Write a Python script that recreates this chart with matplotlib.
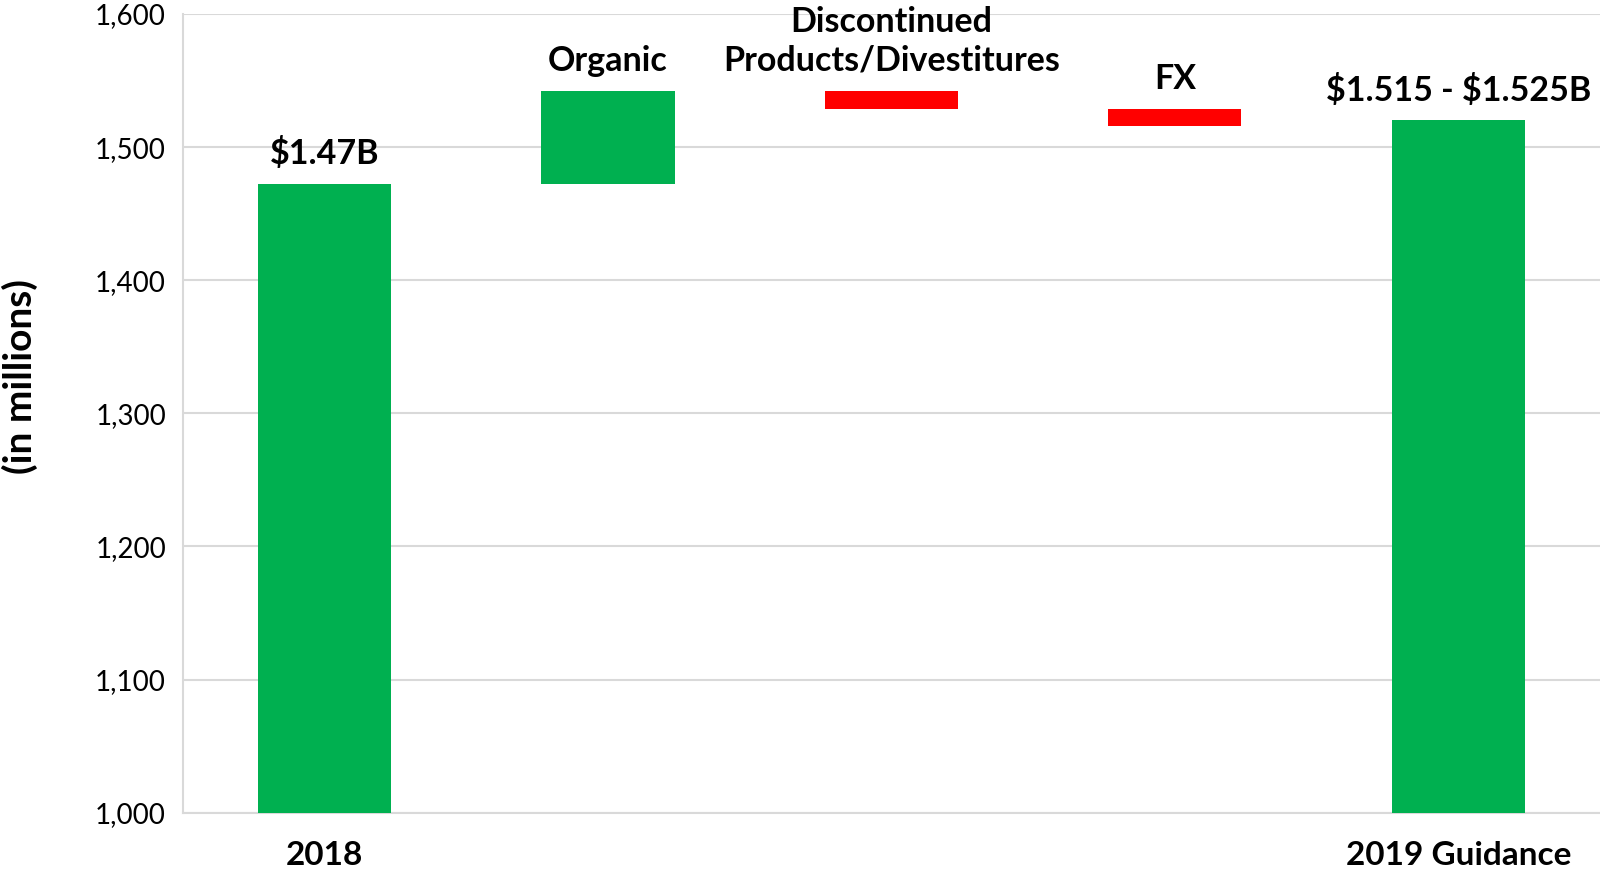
import numpy as np
import matplotlib
matplotlib.use("Agg")
from matplotlib import pyplot as plt

# waterfall data (in millions)
categories = ["2018", "Organic", "Discontinued\nProducts/Divestitures", "FX", "2019 Guidance"]
tick_labels = ["2018", "", "", "", "2019 Guidance"]
bar_labels = ["$1.47B", "Organic", "Discontinued\nProducts/Divestitures", "FX", "$1.515 - $1.525B"]
start_value = 1472
changes = [70.5, -13.5, -13.5]
guidance_value = 1520

plt.rcParams['font.family'] = ['Lato', 'DejaVu Sans']
plt.rcParams['text.parse_math'] = False

# bottoms / heights of the floating bars
bottoms = [1000]
heights = [start_value - 1000]
level = start_value
for c in changes:
   if c >= 0:
      bottoms.append(level)
      heights.append(c)
   else:
      bottoms.append(level + c)
      heights.append(-c)
   level += c
bottoms.append(1000)
heights.append(guidance_value - 1000)
tops = [b + h for b, h in zip(bottoms, heights)]
colors = ["#00b050", "#00b050", "#ff0000", "#ff0000", "#00b050"]

fig = plt.figure(figsize=(16, 8.74), dpi=100)
ax = fig.add_axes([0.1142, 0.0701, 0.8858, 0.9139])

x = np.arange(len(categories))
ax.bar(x, heights, bottom=bottoms, width=0.47, color=colors, zorder=3)

for xi, top, lab in zip(x, tops, bar_labels):
   ax.annotate(lab, (xi, top), xytext=(0, 10), textcoords="offset points",
               ha="center", va="bottom", fontsize=24.5, fontweight="bold",
               linespacing=1.25, annotation_clip=False)

ax.set_xlim(-0.5, 4.5)
ax.set_ylim(1000, 1600)
ax.set_yticks(np.arange(1000, 1601, 100))
ax.set_yticklabels(["{:,}".format(v) for v in range(1000, 1601, 100)], fontsize=20)
ax.set_xticks(x)
ax.set_xticklabels(tick_labels, fontsize=24, fontweight="bold")
ax.tick_params(axis="both", length=0)
ax.tick_params(axis="y", pad=12)
ax.tick_params(axis="x", pad=20)

ax.grid(axis="y", color="#d9d9d9", linewidth=1.5, zorder=0)
for s in ["top", "right"]:
   ax.spines[s].set_visible(False)
for s in ["left", "bottom"]:
   ax.spines[s].set_color("#d9d9d9")
   ax.spines[s].set_linewidth(1.5)

fig.text(20 / 1600, 1 - 377 / 874, "(in millions)", rotation=90, ha="center", va="center",
         fontsize=28, fontweight="bold")

fig.savefig("out.png", dpi=100)
